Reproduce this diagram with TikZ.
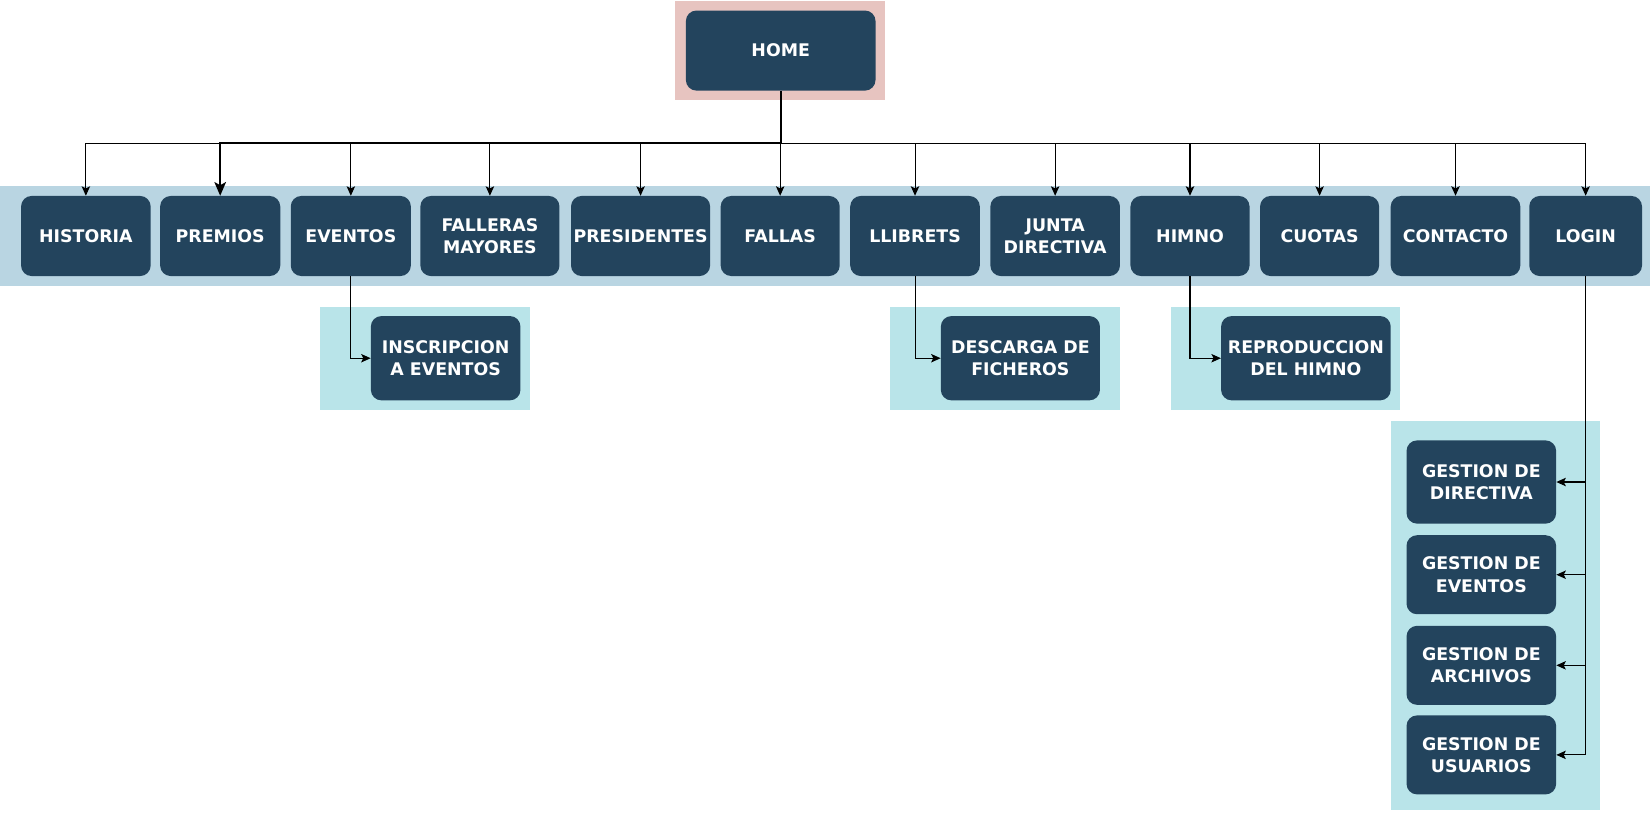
\documentclass[tikz,border=0pt]{standalone}
\usepackage{fontspec}
\setmainfont{DejaVu Sans}
\usepackage{tikz}
\usetikzlibrary{shapes,arrows.meta,positioning}
\definecolor{falla-navy}{HTML}{23445D}
\definecolor{falla-band}{HTML}{B9D5E2}
\definecolor{falla-cyan}{HTML}{B9E4E9}
\definecolor{falla-pink}{HTML}{E7C4C0}

\tikzset{
  pagebox/.style={draw=none, fill=falla-navy, rounded corners=10pt, text=white,
    font=\fontsize{16.5}{21}\selectfont\bfseries, align=center, inner sep=0pt},
  link/.style={line width=1pt, -{Stealth[length=9pt,width=8pt,inset=2pt]}},
  boldlink/.style={line width=1.8pt, -{Stealth[length=13pt,width=11pt,inset=3pt]}}
}

\begin{document}
\begin{tikzpicture}[x=1pt,y=-1pt]
\useasboundingbox (0,0) rectangle (1568,773.6);
\fill[falla-pink] (641,1) rectangle (840,95);
\fill[falla-band] (0,177) rectangle (1566,271);
\fill[falla-cyan] (304,291) rectangle (503,389);
\fill[falla-cyan] (845,291) rectangle (1063,389);
\fill[falla-cyan] (1111,291) rectangle (1329,389);
\fill[falla-cyan] (1320,400) rectangle (1519,769);

\node[pagebox, minimum width=180pt, minimum height=76pt] (home) at (741,48) {HOME};

\node[pagebox, minimum width=123pt, minimum height=76pt] (historia) at (81.5,224) {HISTORIA};
\node[pagebox, minimum width=114pt, minimum height=76pt] (premios) at (209,224) {PREMIOS};
\node[pagebox, minimum width=114pt, minimum height=76pt] (eventos) at (333,224) {EVENTOS};
\node[pagebox, minimum width=132pt, minimum height=76pt] (falleras) at (465,224) {FALLERAS\\MAYORES};
\node[pagebox, minimum width=132pt, minimum height=76pt] (presidentes) at (608,224) {PRESIDENTES};
\node[pagebox, minimum width=113pt, minimum height=76pt] (fallas) at (740.5,224) {FALLAS};
\node[pagebox, minimum width=123pt, minimum height=76pt] (llibrets) at (868.5,224) {LLIBRETS};
\node[pagebox, minimum width=123pt, minimum height=76pt] (junta) at (1001.5,224) {JUNTA\\DIRECTIVA};
\node[pagebox, minimum width=113pt, minimum height=76pt] (himno) at (1129.5,224) {HIMNO};
\node[pagebox, minimum width=113pt, minimum height=76pt] (cuotas) at (1252.5,224) {CUOTAS};
\node[pagebox, minimum width=123pt, minimum height=76pt] (contacto) at (1381.5,224) {CONTACTO};
\node[pagebox, minimum width=107pt, minimum height=76pt] (login) at (1505,224) {LOGIN};

\node[pagebox, minimum width=142pt, minimum height=80pt] (inscripcion) at (423,340) {INSCRIPCION\\A EVENTOS};
\node[pagebox, minimum width=151pt, minimum height=80pt] (descarga) at (968.5,340) {DESCARGA DE\\FICHEROS};
\node[pagebox, minimum width=161pt, minimum height=80pt] (reproduccion) at (1239.5,340) {REPRODUCCION\\DEL HIMNO};

\node[pagebox, minimum width=142pt, minimum height=79pt] (gdirectiva) at (1406,457.5) {GESTION DE\\DIRECTIVA};
\node[pagebox, minimum width=142pt, minimum height=75pt] (geventos) at (1406,545.5) {GESTION DE\\EVENTOS};
\node[pagebox, minimum width=142pt, minimum height=75pt] (garchivos) at (1406,631.5) {GESTION DE\\ARCHIVOS};
\node[pagebox, minimum width=142pt, minimum height=75pt] (gusuarios) at (1406,716.5) {GESTION DE\\USUARIOS};

\coordinate (bus) at (home.south |- 0,136);
\draw[line width=1pt] (historia.north |- bus) -- (login.north |- bus);
\foreach \page in {historia,eventos,falleras,presidentes,fallas,llibrets,junta,himno,cuotas,contacto,login}
  \draw[link] (\page.north |- bus) -- (\page.north);
\draw[line width=1.8pt] (home.south) -- (bus);
\draw[boldlink] (bus) -- (premios.north |- bus) -- (premios.north);

\draw[link] (eventos.south) |- (inscripcion.west);
\draw[link] (llibrets.south) |- (descarga.west);
\draw[link] (himno.south) |- (reproduccion.west);

\draw[link] (login.south) |- (gusuarios.east);
\foreach \page in {gdirectiva,geventos,garchivos}
  \draw[link] (login.south |- \page.east) -- (\page.east);
\end{tikzpicture}
\end{document}
